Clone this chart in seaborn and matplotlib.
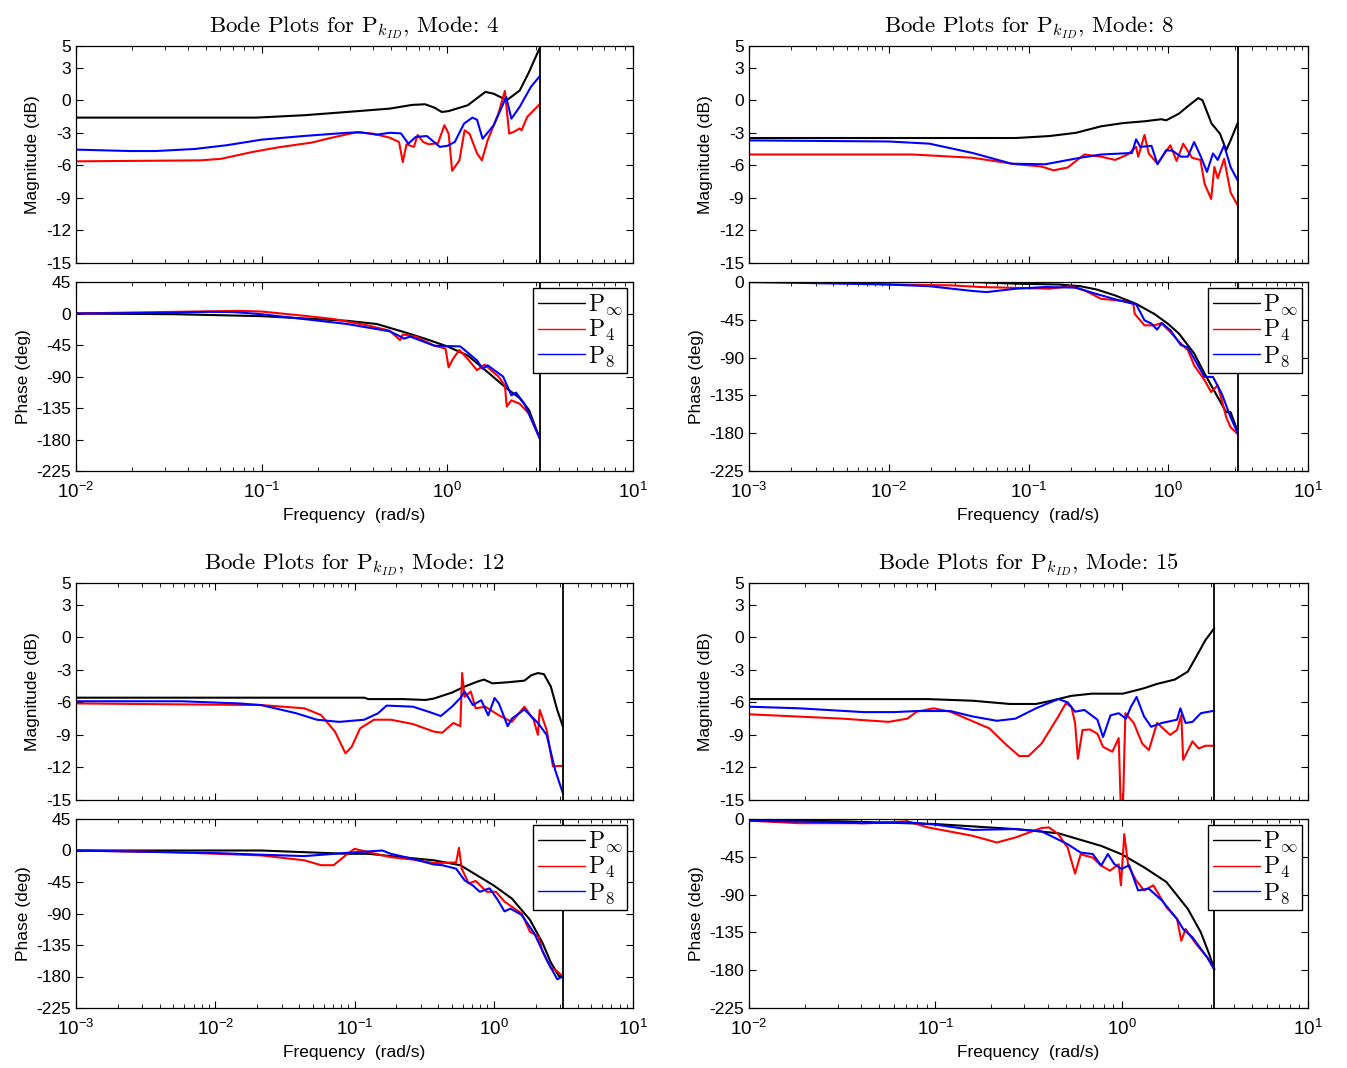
import numpy as np
import matplotlib
matplotlib.use("Agg")
import matplotlib.pyplot as plt
import seaborn as sns
from matplotlib.ticker import LogLocator, NullFormatter, FixedLocator

# ---------------- data (log10 of frequency in rad/s, and values) ----------------
NYQUIST = 3.1416
SERIES_LABELS = [r"$\mathrm{P}_{\infty}$", r"$\mathrm{P}_{4}$", r"$\mathrm{P}_{8}$"]
SERIES_COLORS = ["#000000", "#ff0000", "#0000ff"]

# Mode 4
m4_mag_inf_lw = [-2, -1.03, -0.77, -0.54, -0.31, -0.19, -0.12, -0.07, -0.03, 0.007, 0.11, 0.205, 0.25, 0.32, 0.39, 0.44, 0.497]
m4_mag_inf = [-1.6, -1.6, -1.38, -1.08, -0.77, -0.43, -0.37, -0.68, -1.08, -1.0, -0.46, 0.77, 0.6, 0.0, 0.9, 2.6, 4.8]
m4_mag_p4_lw = [-2, -1.33, -1.22, -1.05, -0.91, -0.73, -0.63, -0.49, -0.40, -0.31, -0.26, -0.24, -0.22, -0.18, -0.16, -0.13, -0.10, -0.05, -0.016, 0.007, 0.026, 0.065, 0.093, 0.12, 0.16, 0.186, 0.217, 0.275, 0.31, 0.333, 0.357, 0.39, 0.40, 0.43, 0.497]
m4_mag_p4 = [-5.63, -5.54, -5.4, -4.77, -4.34, -3.9, -3.48, -2.95, -3.08, -3.45, -3.85, -5.7, -4.06, -4.3, -3.2, -3.85, -4.06, -3.95, -2.3, -3.08, -6.5, -5.54, -2.77, -3.1, -4.9, -5.54, -3.7, -1.23, 0.86, -3.08, -2.92, -2.6, -2.77, -1.54, -0.37]
m4_mag_p8_lw = [-2, -1.71, -1.57, -1.36, -1.19, -1.0, -0.77, -0.54, -0.47, -0.38, -0.31, -0.25, -0.21, -0.17, -0.11, -0.04, 0.0, 0.04, 0.09, 0.135, 0.16, 0.19, 0.25, 0.317, 0.345, 0.39, 0.45, 0.497]
m4_mag_p8 = [-4.55, -4.68, -4.68, -4.49, -4.15, -3.63, -3.29, -3.0, -2.95, -3.17, -3.0, -3.05, -4.0, -3.38, -3.3, -4.3, -4.2, -3.85, -2.15, -1.6, -1.8, -3.55, -2.3, 0.3, -1.7, -0.6, 1.23, 2.2]
m4_ph_inf_lw = [-2, -1.47, -1.0, -0.54, -0.38, -0.24, -0.12, 0.0, 0.11, 0.205, 0.32, 0.39, 0.44, 0.497]
m4_ph_inf = [0, -1, -3.8, -10.4, -15, -26, -36, -47, -60, -81, -107, -121, -138, -178]
m4_ph_p4_lw = [-2, -1.7, -1.12, -1.0, -0.77, -0.61, -0.42, -0.31, -0.255, -0.24, -0.17, -0.07, -0.01, 0.007, 0.03, 0.065, 0.11, 0.16, 0.2, 0.275, 0.31, 0.32, 0.345, 0.39, 0.44, 0.497]
m4_ph_p4 = [0, 1.4, 3.8, 2.8, -3.3, -8, -17.5, -24.6, -38, -30, -33, -46, -50, -77, -65, -52, -65, -81, -73, -90, -103, -133, -124, -129, -143, -178]
m4_ph_p8_lw = [-2, -1.47, -1.29, -1.15, -1.0, -0.77, -0.54, -0.31, -0.245, -0.235, -0.2, -0.07, 0.07, 0.16, 0.19, 0.217, 0.30, 0.345, 0.37, 0.415, 0.497]
m4_ph_p8 = [0, 1, 2.4, 2, -1, -8, -15, -25.5, -34, -36, -33, -46, -47, -67, -79, -74, -90, -117, -113, -129, -178]

# Mode 8
m8_mag_inf_lw = [-3, -1.09, -0.85, -0.66, -0.48, -0.32, -0.17, -0.05, -0.015, 0.077, 0.14, 0.215, 0.245, 0.31, 0.37, 0.415, 0.446, 0.497]
m8_mag_inf = [-3.48, -3.48, -3.3, -3.0, -2.4, -2.1, -1.94, -1.75, -1.85, -1.23, -0.55, 0.2, 0.0, -2.15, -3.08, -4.6, -3.7, -2.1]
m8_mag_p4_lw = [-3, -1.83, -1.4, -1.09, -0.91, -0.82, -0.72, -0.6, -0.48, -0.38, -0.29, -0.23, -0.215, -0.17, -0.14, -0.077, 0.015, 0.06, 0.107, 0.17, 0.23, 0.26, 0.307, 0.33, 0.354, 0.4, 0.446, 0.497]
m8_mag_p4 = [-5.0, -5.0, -5.3, -5.9, -6.1, -6.46, -6.2, -5.0, -5.2, -5.5, -5.0, -4.3, -5.2, -3.2, -4.9, -5.85, -4.15, -5.6, -4.0, -5.3, -5.5, -7.7, -9.1, -6.15, -7.2, -5.4, -8.5, -9.7]
m8_mag_p8_lw = [-3, -2.0, -1.71, -1.4, -1.12, -0.88, -0.63, -0.48, -0.26, -0.23, -0.2, -0.12, -0.077, -0.015, 0.03, 0.09, 0.14, 0.185, 0.23, 0.277, 0.32, 0.354, 0.4, 0.446, 0.497]
m8_mag_p8 = [-3.7, -3.8, -4.0, -4.86, -5.85, -5.9, -5.3, -5.0, -4.86, -3.6, -4.3, -4.2, -5.9, -4.6, -4.65, -5.2, -5.2, -3.85, -5.1, -6.6, -4.9, -5.5, -4.15, -6.15, -7.4]
m8_ph_inf_lw = [-3, -1.4, -1.09, -0.78, -0.63, -0.51, -0.38, -0.23, -0.1, 0.0, 0.077, 0.185, 0.26, 0.354, 0.415, 0.446, 0.497]
m8_ph_inf = [0, 0, -2, -3, -5, -9, -16, -26, -38, -50, -61.5, -85, -109, -137, -155, -155, -178]
m8_ph_p4_lw = [-3, -2.3, -2.0, -1.55, -1.34, -1.09, -0.85, -0.7, -0.6, -0.48, -0.32, -0.25, -0.24, -0.17, -0.1, -0.05, 0.015, 0.077, 0.14, 0.185, 0.26, 0.307, 0.354, 0.415, 0.446, 0.497]
m8_ph_p4 = [0, 0, -3, -4, -6, -7, -8, -5, -10, -20, -22.6, -26, -38, -51.6, -51.6, -49, -59.5, -71, -81, -99, -117, -131, -123, -161, -173, -181]
m8_ph_p8_lw = [-3, -2.32, -2.0, -1.71, -1.4, -1.3, -1.09, -0.88, -0.66, -0.54, -0.35, -0.23, -0.17, -0.12, -0.08, -0.046, 0.015, 0.09, 0.14, 0.26, 0.32, 0.383, 0.446, 0.497]
m8_ph_p8 = [0, -2, -3, -5, -10.7, -12, -8, -6, -6.7, -13, -22, -26.6, -45.6, -49.6, -56.7, -48.8, -57.5, -75, -78, -113, -113, -133, -161, -180]

# Mode 12
m12_mag_inf_lw = [-3, -0.93, -0.9, -0.65, -0.49, -0.43, -0.3, -0.21, -0.12, -0.07, -0.01, 0.1, 0.22, 0.27, 0.317, 0.36, 0.41, 0.456, 0.497]
m12_mag_inf = [-5.57, -5.57, -5.7, -5.7, -5.78, -5.65, -5.1, -4.55, -4.1, -3.9, -4.25, -4.15, -4.0, -3.5, -3.3, -3.4, -4.55, -6.7, -8.25]
m12_mag_p4_lw = [-3, -1.67, -1.36, -1.24, -1.14, -1.065, -1.02, -0.96, -0.86, -0.74, -0.58, -0.43, -0.37, -0.29, -0.24, -0.227, -0.21, -0.165, -0.13, -0.06, 0.037, 0.13, 0.22, 0.286, 0.317, 0.33, 0.38, 0.425, 0.497]
m12_mag_p4 = [-6.1, -6.25, -6.55, -7.17, -8.7, -10.7, -10.1, -8.4, -7.6, -7.6, -8.0, -8.7, -8.8, -7.9, -8.2, -3.3, -5.5, -5.0, -6.55, -6.4, -7.2, -7.8, -6.4, -7.6, -9.0, -6.7, -8.55, -11.9, -11.85]
m12_mag_p8_lw = [-3, -2.24, -1.83, -1.67, -1.42, -1.27, -1.11, -0.93, -0.83, -0.77, -0.58, -0.46, -0.38, -0.3, -0.24, -0.21, -0.18, -0.15, -0.09, -0.04, 0.006, 0.037, 0.1, 0.13, 0.22, 0.317, 0.38, 0.44, 0.497]
m12_mag_p8 = [-5.9, -5.9, -6.1, -6.25, -7.0, -7.6, -7.8, -7.6, -7.0, -6.3, -6.4, -6.9, -7.26, -6.4, -5.6, -5.0, -5.6, -6.25, -5.8, -7.2, -5.6, -6.1, -8.2, -7.5, -6.65, -7.9, -9.0, -12.2, -14.4]
m12_ph_inf_lw = [-3, -1.67, -1.36, -1.05, -0.9, -0.74, -0.43, -0.24, -0.12, 0.0, 0.13, 0.26, 0.35, 0.41, 0.47, 0.497]
m12_ph_inf = [0, 0, -2.4, -4.7, -4.7, -8, -14, -21, -35.5, -50, -68.6, -99, -132, -160, -180, -178]
m12_ph_p4_lw = [-3, -2.3, -1.67, -1.36, -1.24, -1.15, -1.05, -1.0, -0.9, -0.74, -0.58, -0.43, -0.27, -0.25, -0.23, -0.18, -0.13, -0.05, 0.016, 0.077, 0.2, 0.26, 0.32, 0.35, 0.41, 0.44, 0.497]
m12_ph_p4 = [0, -2.4, -7, -14, -21, -21, -4.7, 2.4, -2.4, -9.5, -13, -18, -17, 3.8, -26, -47, -43.5, -59, -59, -73, -90, -116, -123, -144, -168, -170, -180]
m12_ph_p8_lw = [-3, -1.98, -1.67, -1.36, -1.05, -0.8, -0.74, -0.58, -0.43, -0.37, -0.27, -0.21, -0.15, -0.1, -0.03, 0.03, 0.077, 0.12, 0.2, 0.29, 0.38, 0.456, 0.497]
m12_ph_p8 = [0, -3.8, -6, -8, -3.3, 0, -4.7, -12, -20, -21, -26, -42.5, -50, -59, -54, -71, -87, -83, -92, -118, -156, -184, -180]

# Mode 15
m15_mag_inf_lw = [-2, -1.04, -0.8, -0.6, -0.46, -0.39, -0.27, -0.16, 0.007, 0.12, 0.19, 0.285, 0.355, 0.4, 0.45, 0.497]
m15_mag_inf = [-5.7, -5.7, -5.85, -6.15, -6.15, -5.9, -5.4, -5.2, -5.2, -4.7, -4.3, -3.9, -3.17, -1.8, -0.25, 0.83]
m15_mag_p4_lw = [-2, -1.5, -1.25, -1.15, -1.1, -1.01, -0.92, -0.71, -0.62, -0.55, -0.5, -0.43, -0.34, -0.3, -0.27, -0.25, -0.235, -0.21, -0.17, -0.13, -0.1, -0.05, -0.016, -0.005, 0.007, 0.02, 0.065, 0.11, 0.146, 0.19, 0.26, 0.297, 0.32, 0.33, 0.38, 0.413, 0.45, 0.497]
m15_mag_p4 = [-7.1, -7.5, -7.8, -7.5, -6.86, -6.55, -6.86, -8.4, -9.9, -10.95, -10.95, -9.8, -7.3, -6.1, -6.4, -7.9, -11.2, -8.55, -8.5, -8.9, -10.1, -10.55, -9.3, -15.5, -15.5, -7.0, -7.9, -9.8, -10.4, -7.9, -9.0, -8.55, -7.17, -11.3, -9.6, -10.25, -10.0, -10.0]
m15_mag_p8_lw = [-2, -1.73, -1.385, -1.22, -1.1, -0.92, -0.8, -0.67, -0.57, -0.46, -0.34, -0.29, -0.25, -0.2, -0.13, -0.1, -0.06, -0.016, 0.023, 0.05, 0.08, 0.12, 0.158, 0.216, 0.297, 0.315, 0.343, 0.38, 0.425, 0.497]
m15_mag_p8 = [-6.4, -6.55, -6.9, -6.9, -6.8, -6.8, -7.3, -7.7, -7.5, -6.55, -5.7, -6.0, -6.86, -6.7, -7.6, -9.2, -7.2, -7.0, -7.5, -6.4, -5.5, -7.3, -8.25, -7.9, -7.6, -6.55, -7.9, -7.8, -7.0, -6.77]
m15_ph_inf_lw = [-2, -1.5, -1.0, -0.57, -0.34, -0.11, 0.0, 0.12, 0.24, 0.355, 0.425, 0.47, 0.497]
m15_ph_inf = [-1, -2.8, -6, -12, -17, -32, -42, -57.5, -75, -107, -135, -161, -179]
m15_ph_p4_lw = [-2, -1.73, -1.385, -1.15, -1.04, -0.8, -0.67, -0.57, -0.43, -0.39, -0.34, -0.29, -0.25, -0.22, -0.155, -0.11, -0.063, -0.016, -0.004, 0.014, 0.035, 0.077, 0.12, 0.17, 0.24, 0.297, 0.32, 0.343, 0.4, 0.46, 0.497]
m15_ph_p4 = [-2, -5, -5, -2.8, -10, -20, -28, -22, -10.7, -10, -18, -34, -65, -42, -46, -55.5, -61.5, -54, -79, -18, -55.5, -73, -85, -79, -105, -119, -145, -131, -149, -165, -179]
m15_ph_p8_lw = [-2, -1.73, -1.385, -1.15, -1.0, -0.8, -0.57, -0.43, -0.29, -0.22, -0.155, -0.11, -0.074, -0.04, 0.0, 0.04, 0.088, 0.146, 0.216, 0.297, 0.33, 0.38, 0.46, 0.497]
m15_ph_p8 = [-2, -3, -5, -4, -6.7, -13, -12, -14.7, -30, -40, -41.7, -55.5, -41.7, -53.6, -59.5, -55, -85, -83, -97, -119, -131, -141, -165, -179]

MAG_TICKS = [5, 3, 0, -3, -6, -9, -12, -15]

PANELS = [
    dict(mode=4, xlim=(1e-2, 1e1), ph_ticks=[45, 0, -45, -90, -135, -180, -225],
         mag=[(m4_mag_inf_lw, m4_mag_inf), (m4_mag_p4_lw, m4_mag_p4), (m4_mag_p8_lw, m4_mag_p8)],
         ph=[(m4_ph_inf_lw, m4_ph_inf), (m4_ph_p4_lw, m4_ph_p4), (m4_ph_p8_lw, m4_ph_p8)],
         px=(76, 633, 46, 263, 282, 471)),
    dict(mode=8, xlim=(1e-3, 1e1), ph_ticks=[0, -45, -90, -135, -180, -225],
         mag=[(m8_mag_inf_lw, m8_mag_inf), (m8_mag_p4_lw, m8_mag_p4), (m8_mag_p8_lw, m8_mag_p8)],
         ph=[(m8_ph_inf_lw, m8_ph_inf), (m8_ph_p4_lw, m8_ph_p4), (m8_ph_p8_lw, m8_ph_p8)],
         px=(749, 1308, 46, 263, 282, 471)),
    dict(mode=12, xlim=(1e-3, 1e1), ph_ticks=[45, 0, -45, -90, -135, -180, -225],
         mag=[(m12_mag_inf_lw, m12_mag_inf), (m12_mag_p4_lw, m12_mag_p4), (m12_mag_p8_lw, m12_mag_p8)],
         ph=[(m12_ph_inf_lw, m12_ph_inf), (m12_ph_p4_lw, m12_ph_p4), (m12_ph_p8_lw, m12_ph_p8)],
         px=(76, 633, 583, 800, 819, 1008)),
    dict(mode=15, xlim=(1e-2, 1e1), ph_ticks=[0, -45, -90, -135, -180, -225],
         mag=[(m15_mag_inf_lw, m15_mag_inf), (m15_mag_p4_lw, m15_mag_p4), (m15_mag_p8_lw, m15_mag_p8)],
         ph=[(m15_ph_inf_lw, m15_ph_inf), (m15_ph_p4_lw, m15_ph_p4), (m15_ph_p8_lw, m15_ph_p8)],
         px=(749, 1308, 583, 800, 819, 1008)),
]

# ---------------- style ----------------
sns.set_theme(style="white")
plt.rcParams.update({
    "font.family": ["Liberation Sans", "DejaVu Sans"],
    "mathtext.fontset": "cm",
    "axes.unicode_minus": False,
    "axes.edgecolor": "black",
    "axes.linewidth": 0.9,
    "xtick.color": "black",
    "ytick.color": "black",
    "text.color": "black",
    "axes.labelcolor": "black",
    "xtick.labelsize": 13.5,
    "ytick.labelsize": 12.5,
    "axes.labelsize": 12.5,
})

W, H = 1347, 1068
fig = plt.figure(figsize=(W / 100, H / 100), dpi=100)
fig.patch.set_facecolor("white")


def style_axis(ax, xlim):
    ax.set_xscale("log")
    ax.set_xlim(*xlim)
    ax.xaxis.set_major_locator(LogLocator(base=10, numticks=10))
    ax.xaxis.set_minor_locator(LogLocator(base=10, subs=np.arange(2, 10), numticks=20))
    ax.xaxis.set_minor_formatter(NullFormatter())
    ax.tick_params(which="both", direction="in", top=True, right=True,
                   bottom=True, left=True, colors="black")
    ax.tick_params(which="major", length=5, width=0.8)
    ax.tick_params(which="minor", length=3, width=0.6)
    ax.tick_params(axis="x", which="major", pad=8)
    ax.grid(False)
    ax.set_facecolor("white")


def add_ax(l, r, t, b):
    return fig.add_axes([l / W, 1 - b / H, (r - l) / W, (b - t) / H])


for p in PANELS:
    l, r, mt, mb, pt, pb = p["px"]
    axm = add_ax(l, r, mt, mb)
    axp = add_ax(l, r, pt, pb)

    for (lw_, vals), col in zip(p["mag"], SERIES_COLORS):
        sns.lineplot(x=10 ** np.asarray(lw_), y=vals, ax=axm, color=col, lw=1.5,
                     estimator=None, sort=False)
    for (lw_, vals), col, lab in zip(p["ph"], SERIES_COLORS, SERIES_LABELS):
        sns.lineplot(x=10 ** np.asarray(lw_), y=vals, ax=axp, color=col, lw=1.5,
                     estimator=None, sort=False, label=lab)

    for ax in (axm, axp):
        style_axis(ax, p["xlim"])
        ax.axvline(NYQUIST, color="black", lw=1.3)

    axm.set_ylim(-15, 5)
    axm.yaxis.set_major_locator(FixedLocator(MAG_TICKS))
    axm.tick_params(labelbottom=False)
    axm.set_ylabel("Magnitude (dB)", labelpad=4)
    axm.set_xlabel("")
    axm.set_title("Bode Plots for $\\mathrm{P}_{k_{ID}}$, Mode: %d" % p["mode"],
                  fontsize=16.5, pad=10, fontfamily="cmr10")

    axp.set_ylim(min(p["ph_ticks"]), max(p["ph_ticks"]))
    axp.yaxis.set_major_locator(FixedLocator(p["ph_ticks"]))
    axp.set_ylabel("Phase (deg)", labelpad=4)
    axp.set_xlabel("Frequency  (rad/s)", labelpad=4)

    leg = axp.legend(loc="upper right", fontsize=17, frameon=True, fancybox=False,
                     framealpha=1, edgecolor="black", borderaxespad=0.25,
                     borderpad=0.2, labelspacing=0.05, handlelength=2.0,
                     handletextpad=0.1)
    leg.get_frame().set_linewidth(1.0)
    for line in leg.get_lines():
        line.set_linewidth(1.0)

fig.savefig("out.png", dpi=100, facecolor="white")
